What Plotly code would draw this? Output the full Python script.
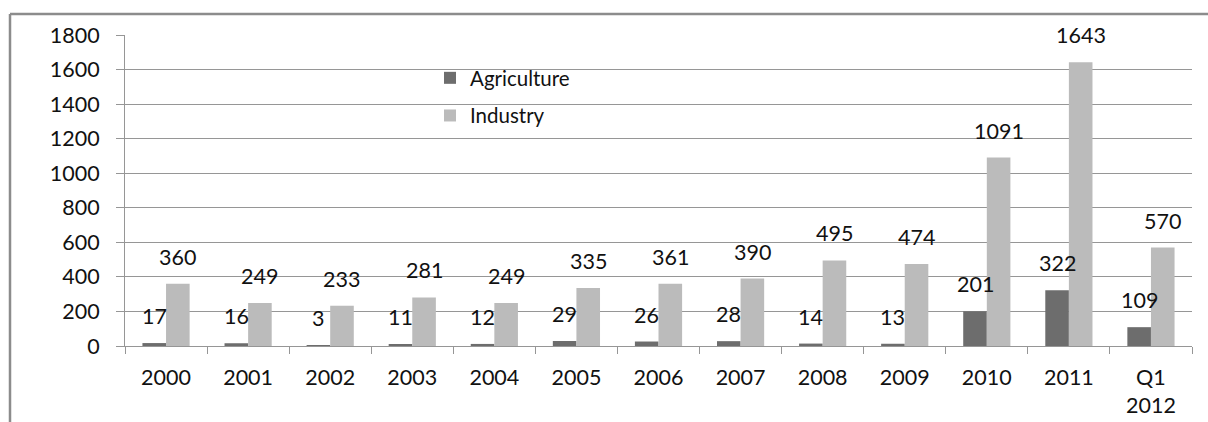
import plotly.graph_objects as go

categories = ["2000", "2001", "2002", "2003", "2004", "2005", "2006",
              "2007", "2008", "2009", "2010", "2011", "Q1<br>2012"]
agriculture = [17, 16, 3, 11, 12, 29, 26, 28, 14, 13, 201, 322, 109]
industry = [360, 249, 233, 281, 249, 335, 361, 390, 495, 474, 1091, 1643, 570]
y_ticks = [0, 200, 400, 600, 800, 1000, 1200, 1400, 1600, 1800]

AGRI_COLOR = "#6d6d6d"
IND_COLOR = "#bbbbbb"
GRID = "#969696"
FONT = "Lato, Carlito, 'Liberation Sans', sans-serif"
FS = 21.5
BARGAP = 0.425

W, H = 1208, 422
ML, MR, MT, MB = 125, 16, 35, 76

fig = go.Figure()
fig.add_trace(go.Bar(name="Agriculture", x=categories, y=agriculture,
                     marker=dict(color=AGRI_COLOR, line=dict(width=0)),
                     legendgroup="a"))
fig.add_trace(go.Bar(name="Industry", x=categories, y=industry,
                     marker=dict(color=IND_COLOR, line=dict(width=0)),
                     legendgroup="b"))

# data labels placed well above each bar (Excel style)
half = (1 - BARGAP) / 4
annotations = []
for i, (a, b) in enumerate(zip(agriculture, industry)):
    for val, off in ((a, -half), (b, half)):
        annotations.append(dict(x=i + off, y=val, xref="x", yref="y",
                                text=str(val), showarrow=False,
                                yshift=27, yanchor="middle", xanchor="center",
                                font=dict(family=FONT, size=FS, color="#111")))

PW, PH = W - ML - MR, H - MT - MB
fig.update_layout(
    width=W, height=H,
    margin=dict(l=ML, r=MR, t=MT, b=MB, autoexpand=False),
    paper_bgcolor="white", plot_bgcolor="white",
    barmode="group", bargap=BARGAP, bargroupgap=0,
    font=dict(family=FONT, size=FS, color="#111"),
    showlegend=True,
    legend=dict(x=(430 - ML) / PW, xanchor="left",
                y=1 - (58 - MT) / PH, yanchor="top",
                bgcolor="rgba(0,0,0,0)", tracegroupgap=8,
                font=dict(family=FONT, size=FS - 1, color="#111")),
    annotations=annotations,
    shapes=[
        dict(type="line", xref="paper", yref="paper",
             x0=(10 - ML) / PW, x1=(W + 5 - ML) / PW,
             y0=1 + (MT - 14) / PH, y1=1 + (MT - 14) / PH,
             line=dict(color="#8c8c8c", width=2.5)),
        dict(type="line", xref="paper", yref="paper",
             x0=(10 - ML) / PW, x1=(10 - ML) / PW,
             y0=1 + (MT - 14) / PH, y1=-(MB + 5) / PH,
             line=dict(color="#8c8c8c", width=2.5)),
    ],
)
fig.update_xaxes(type="category", showline=True, linecolor=GRID, linewidth=1,
                 ticks="outside", tickson="boundaries", ticklen=7,
                 tickcolor=GRID, tickwidth=1, showgrid=False, automargin=False,
                 ticklabelstandoff=12,
                 tickfont=dict(family=FONT, size=FS, color="#111"))
fig.update_yaxes(range=[0, 1800], tickvals=y_ticks, showline=True,
                 linecolor=GRID, linewidth=1, ticks="outside", ticklen=8,
                 tickcolor=GRID, tickwidth=1, showgrid=True, gridcolor=GRID,
                 gridwidth=1, zeroline=False, ticklabelstandoff=12,
                 automargin=False,
                 tickfont=dict(family=FONT, size=FS, color="#111"))

fig.write_html("out.html")
